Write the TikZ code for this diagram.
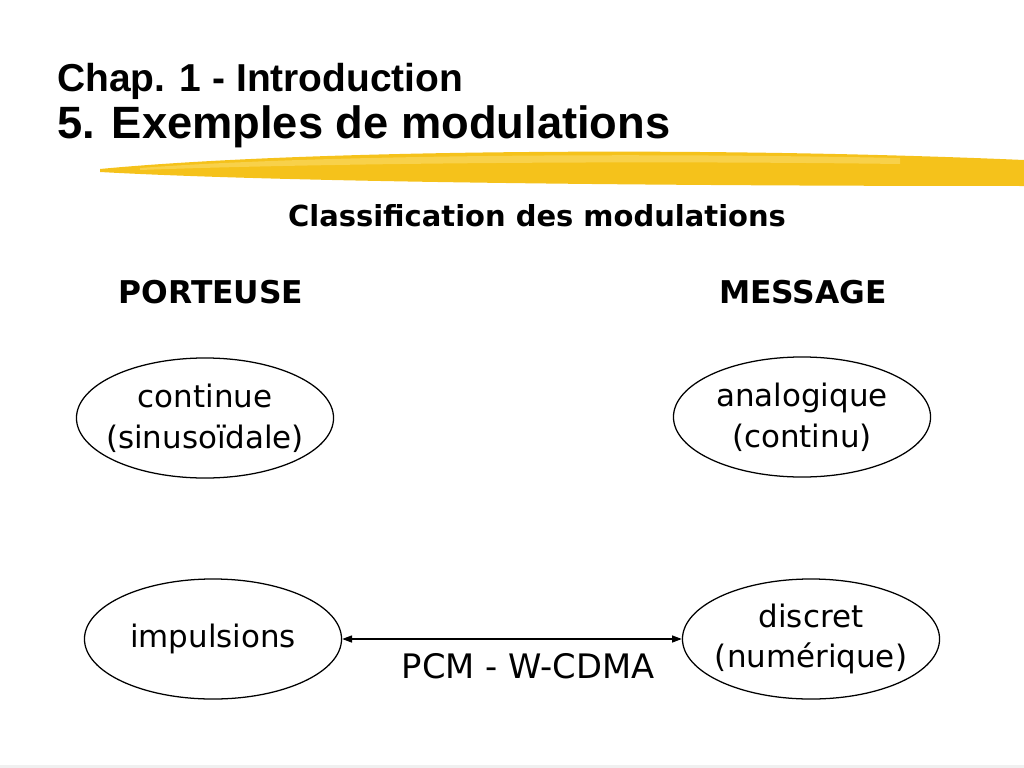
\documentclass[tikz,border=0pt]{standalone}
\usepackage{fontspec}
\setmainfont{DejaVu Sans}
\newfontfamily\titlefont{Liberation Sans}
\usetikzlibrary{shapes.geometric,arrows.meta}
\definecolor{marker}{HTML}{F5C21B}
\definecolor{markerlight}{HTML}{FBDB6A}

\begin{document}
\begin{tikzpicture}[x=0.025cm,y=-0.025cm]

\tikzset{bulle/.style={draw,ellipse,line width=0.9pt,minimum width=6.425cm,minimum height=3cm,
                       inner xsep=-10pt,inner ysep=0pt,align=center,font=\fontsize{22}{29}\selectfont}}
\tikzset{rubrique/.style={anchor=base,inner sep=0pt,font=\bfseries\fontsize{22.3}{24}\selectfont}}
\tikzset{titre/.style={anchor=base west,inner sep=0pt}}

\useasboundingbox (0,0) rectangle (1024,768);
\fill[gray!12] (0,765) rectangle (1024,768);

\fill[marker] (100,169) .. controls (300,150) and (700,146) .. (1024,160)
  -- (1024,186) .. controls (700,186) and (300,183) .. (100,172) -- cycle;
\fill[markerlight,opacity=.6] (140,168) .. controls (300,156) and (600,152) .. (900,158)
  -- (900,164) .. controls (600,160) and (300,164) .. (140,170) -- cycle;

\node[titre,font=\titlefont\bfseries\fontsize{27.7}{30}\selectfont] (chap) at (57,92) {Chap. 1 - Introduction};
\node[titre,font=\titlefont\bfseries\fontsize{32.2}{36}\selectfont] (exemples) at (57,139) {5. Exemples de modulations};

\node[rubrique,font=\bfseries\fontsize{20.6}{24}\selectfont] (classif) at (537,226) {Classification des modulations};
\node[rubrique] (porteuse) at (211,303) {PORTEUSE};
\node[rubrique] (message) at (803,303) {MESSAGE};

\node[bulle] (continue) at (205,418) {continue\\(sinusoïdale)};
\node[bulle] (analog)   at (802,417) {analogique\\(continu)};
\node[bulle] (impuls)   at (213,639) {impulsions};
\node[bulle] (discret)  at (811,639) {discret\\(numérique)};

\draw[{Triangle[length=7pt,width=5pt]}-{Triangle[length=7pt,width=5pt]},line width=0.9pt] (impuls) -- (discret);
\node[anchor=base,inner sep=0pt,font=\fontsize{24}{30}\selectfont] (pcm) at (528,678) {PCM - W-CDMA};

\end{tikzpicture}
\end{document}
